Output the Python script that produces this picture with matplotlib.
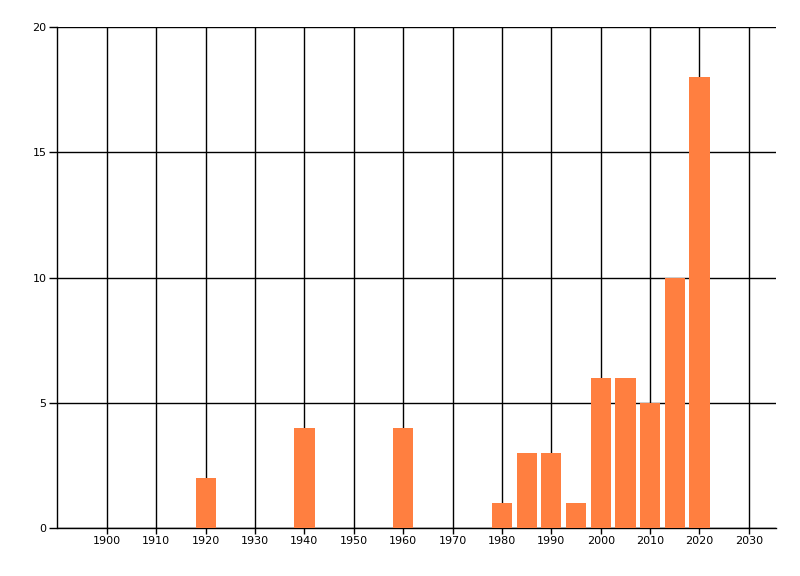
import matplotlib
matplotlib.use("Agg")
import matplotlib.pyplot as plt

years = [1920, 1940, 1960, 1980, 1985, 1990, 1995, 2000, 2005, 2010, 2015, 2020]
counts = [2, 4, 4, 1, 3, 3, 1, 6, 6, 5, 10, 18]
x_ticks = list(range(1900, 2031, 10))
y_ticks = [0, 5, 10, 15, 20]

fig = plt.figure(figsize=(8, 5.76), dpi=100)
ax = fig.add_axes([57.5 / 800, 48 / 576, (776 - 57.5) / 800, (528 - 27) / 576])

ax.bar(years, counts, width=4.1, color="#FF7F40", zorder=3, linewidth=0)

ax.set_xlim(1890, 2035.5)
ax.set_ylim(0, 20)
ax.set_xticks(x_ticks)
ax.set_yticks(y_ticks)
ax.grid(True, color="black", linewidth=1.0, zorder=0)
ax.set_axisbelow(True)

for s in ["top", "right"]:
    ax.spines[s].set_visible(False)
for s in ["left", "bottom"]:
    ax.spines[s].set_color("black")
    ax.spines[s].set_linewidth(1.0)

ax.tick_params(axis="y", length=6, width=1, labelsize=8, pad=2)
ax.tick_params(axis="x", length=4, width=1, labelsize=8, pad=2)

fig.savefig("out.png", dpi=100, facecolor="white")
